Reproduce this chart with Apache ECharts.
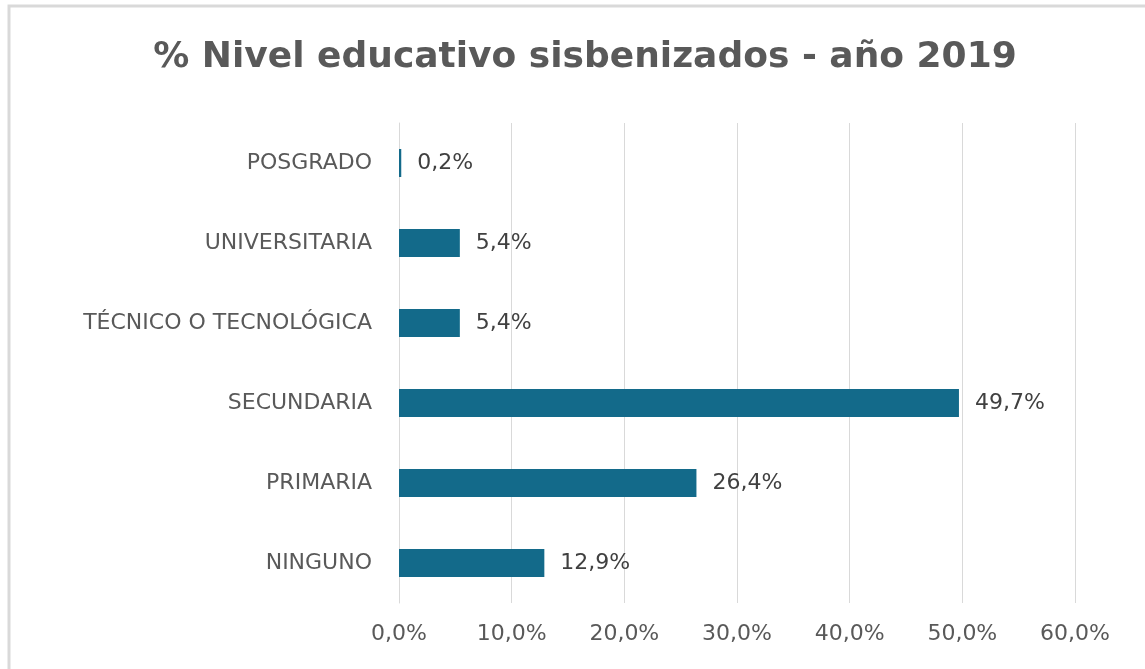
<!DOCTYPE html>
<html>
<head>
<meta charset="utf-8">
<script src="https://cdn.jsdelivr.net/npm/echarts@6/dist/echarts.min.js"></script>
<style>
  html, body { margin: 0; padding: 0; background: #fff; }
  #chart { width: 1145px; height: 669px; }
</style>
</head>
<body>
<div id="chart"></div>
<script>
  var categories = ['NINGUNO', 'PRIMARIA', 'SECUNDARIA', 'TÉCNICO O TECNOLÓGICA', 'UNIVERSITARIA', 'POSGRADO'];
  var values = [12.9, 26.4, 49.7, 5.4, 5.4, 0.2];
  var tickLabels = ['0,0%', '10,0%', '20,0%', '30,0%', '40,0%', '50,0%', '60,0%'];

  function pct(v) {
    return v.toFixed(1).replace('.', ',') + '%';
  }

  var myChart = echarts.init(document.getElementById('chart'));
  var option = {
    animation: false,
    textStyle: { fontFamily: 'DejaVu Sans' },
    title: {
      text: '% Nivel educativo sisbenizados - año 2019',
      left: 580,
      textAlign: 'center',
      top: 35,
      textStyle: { fontSize: 36, fontWeight: 'bold', color: '#595959', fontFamily: 'DejaVu Sans' }
    },
    graphic: [{
      type: 'rect',
      shape: { x: 9, y: 6, width: 1200, height: 700 },
      style: { fill: 'none', stroke: '#d9d9d9', lineWidth: 3 },
      silent: true
    }],
    grid: { left: 399, right: 70, top: 123, bottom: 66, containLabel: false },
    xAxis: {
      type: 'value',
      min: 0,
      max: 60,
      interval: 10,
      axisLine: { show: false },
      axisTick: { show: false },
      splitLine: { show: true, lineStyle: { color: '#d9d9d9', width: 1 } },
      axisLabel: {
        margin: 20,
        fontSize: 22,
        color: '#595959',
        formatter: function (v) { return tickLabels[Math.round(v / 10)]; }
      }
    },
    yAxis: {
      type: 'category',
      data: categories,
      axisLine: { show: true, lineStyle: { color: '#d9d9d9', width: 1 } },
      axisTick: { show: false },
      axisLabel: { margin: 27, fontSize: 22, color: '#595959' }
    },
    series: [{
      type: 'bar',
      data: values,
      barWidth: 28,
      itemStyle: { color: '#136a8a' },
      label: {
        show: true,
        position: 'right',
        distance: 16,
        fontSize: 22,
        color: '#404040',
        formatter: function (p) { return pct(p.value); }
      }
    }]
  };
  myChart.setOption(option);
</script>
</body>
</html>
